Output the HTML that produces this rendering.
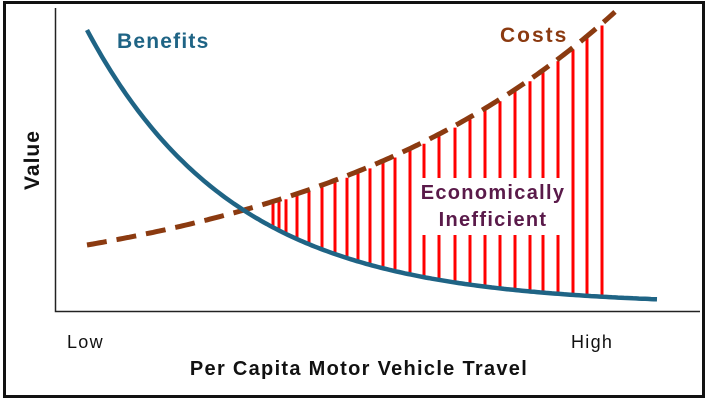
<!DOCTYPE html>
<html><head><meta charset="utf-8"><style>
html,body{margin:0;padding:0;background:#fff}
svg{display:block}
text{font-family:"Liberation Sans",sans-serif}
</style></head><body>
<svg id="s" width="709" height="402" viewBox="0 0 709 402" xmlns="http://www.w3.org/2000/svg">
<rect x="4.5" y="2.5" width="699" height="394" fill="#fff" stroke="#111" stroke-width="3"/>
<polyline points="55.5,8 55.5,311.5 700,311.5" fill="none" stroke="#222" stroke-width="1.5"/>
<g id="red" stroke="#ff0000" stroke-width="3"></g>
<rect x="416" y="178" width="154" height="57" fill="#fff"/>
<path id="cost" fill="none" stroke="#8b3a10" stroke-width="5" stroke-dasharray="20,10"/>
<path id="ben" fill="none" stroke="#1f6485" stroke-width="4.5"/>
<text x="117" y="48" font-size="21" font-weight="bold" fill="#1f6485" letter-spacing="1.2">Benefits</text>
<text x="500" y="42" font-size="21" font-weight="bold" fill="#8b3a10" letter-spacing="2">Costs</text>
<text x="493" y="199" font-size="20" font-weight="bold" fill="#5a1a4a" text-anchor="middle" letter-spacing="1.3">Economically</text>
<text x="493" y="226" font-size="20" font-weight="bold" fill="#5a1a4a" text-anchor="middle" letter-spacing="1.3">Inefficient</text>
<text transform="translate(39,160) rotate(-90)" font-size="21" font-weight="bold" fill="#111" text-anchor="middle" letter-spacing="1">Value</text>
<text x="67" y="348" font-size="18" fill="#111" letter-spacing="1.3">Low</text>
<text x="571" y="348" font-size="18" fill="#111" letter-spacing="1.3">High</text>
<text x="359" y="375" font-size="20" font-weight="bold" fill="#111" text-anchor="middle" letter-spacing="1.3">Per Capita Motor Vehicle Travel</text>
</svg>
<script>
function B(x){return 305-275*Math.exp(-0.0068*(x-87));}
function C(x){return 300-55*Math.exp(0.003136*(x-87));}
var b="",c="";
for(var x=87;x<=658;x+=3){b+=(x==87?"M":"L")+x+","+B(x).toFixed(1);}
for(var x=87;x<=617;x+=3){c+=(x==87?"M":"L")+x+","+C(x).toFixed(1);}
document.getElementById("ben").setAttribute("d",b);
document.getElementById("cost").setAttribute("d",c);
var xs=[273,279,286,297,309,322,335,347,358,370,383,395,410,424,439,455,470,485,500,515,530,543,558,573,587,602];
var g=document.getElementById("red"),h="";
xs.forEach(function(x){h+='<line x1="'+x+'" x2="'+x+'" y1="'+(C(x)+2).toFixed(1)+'" y2="'+(B(x)-1).toFixed(1)+'"/>';});
g.innerHTML=h;
</script>
</body></html>
